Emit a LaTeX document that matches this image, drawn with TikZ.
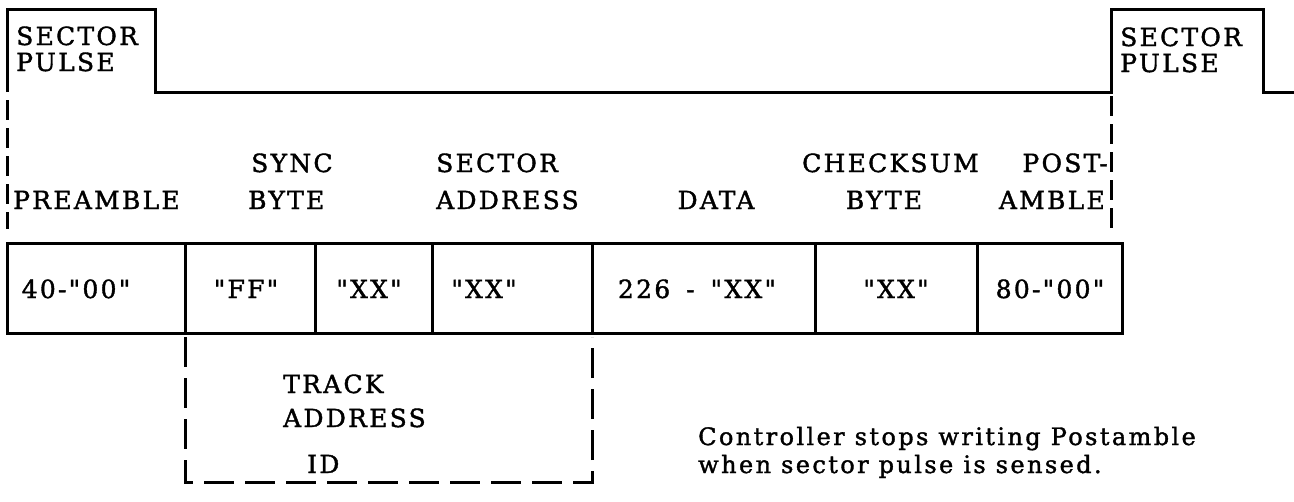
\documentclass[tikz,border=0pt]{standalone}
\usepackage{fontspec}
\setmainfont{DejaVu Serif}
\newfontfamily\lblfont{DejaVu Serif}[LetterSpace=9, FakeBold=1.5]
\newfontfamily\notefont{DejaVu Serif}[LetterSpace=10, FakeBold=1.5]
\begin{document}
\begin{tikzpicture}[x=1pt,y=-1pt,
  sig/.style={line width=3pt, line join=miter},
  boxline/.style={line width=3pt},
  guide/.style={line width=3pt, dash pattern=on 20pt off 8pt},
  idline/.style={line width=3pt, dash pattern=on 30pt off 11pt},
  lbl/.style={inner sep=0pt, font=\lblfont\fontsize{25}{33}\selectfont},
  cell/.style={inner sep=0pt, anchor=base, font=\lblfont\fontsize{25}{33}\selectfont},
  note/.style={inner sep=0pt, font=\notefont\fontsize{24}{30}\selectfont}]
\useasboundingbox (0,0) rectangle (1294,501);

% sector pulse signal
\coordinate (s0) at (7,92);
\coordinate (s1) at (7,9);
\coordinate (s2) at (155,9);
\coordinate (s3) at (155,92);
\coordinate (s4) at (1111,92);
\coordinate (s5) at (1111,9);
\coordinate (s6) at (1263,9);
\coordinate (s7) at (1263,92);
\coordinate (s8) at (1294,92);
\draw[sig] (s0) -- (s1) -- (s2) -- (s3) -- (s4) -- (s5) -- (s6) -- (s7) -- (s8);

\node[lbl, anchor=base west] (spL1) at (16,45) {SECTOR};
\node[lbl, anchor=base west] (spL2) at (16,71) {PULSE};
\node[lbl, anchor=base west] (spR1) at (1120,46) {SECTOR};
\node[lbl, anchor=base west] (spR2) at (1120,72) {PULSE};

% guide lines
\coordinate (gL1) at (7,100);
\coordinate (gL2) at (7,229);
\coordinate (gR1) at (1111,96);
\coordinate (gR2) at (1111,229);
\draw[guide] (gL1) -- (gL2);
\draw[guide] (gR1) -- (gR2);

% field labels
\node[lbl, anchor=base west] (preB) at (13,209) {PREAMBLE};
\node[lbl, anchor=base west] (syncA) at (251,172) {SYNC};
\node[lbl, anchor=base west] (syncB) at (248,209) {BYTE};
\node[lbl, anchor=base west] (secA) at (436,172) {SECTOR};
\node[lbl, anchor=base west] (secB) at (436,209) {ADDRESS};
\node[lbl, anchor=base] (dataB) at (716,209) {DATA};
\node[lbl, anchor=base west] (chkA) at (802,172) {CHECKSUM};
\node[lbl, anchor=base] (chkB) at (884,209) {BYTE};
\node[lbl, anchor=base east] (ambB) at (1105,209) {AMBLE};
\node[lbl, anchor=base east] (ambA) at (1108,172) {POST-};

% record box
\coordinate (b0) at (7,243);
\coordinate (b1) at (1122,333);
\draw[boxline] (b0) rectangle (b1);
\foreach \x/\n in {185/d1,315/d2,432/d3,592/d4,815/d5,977/d6}{
  \coordinate (\n t) at (\x,243);
  \coordinate (\n b) at (\x,333);
  \draw[boxline] (\n t) -- (\n b);
}
\node[cell] (c1) at (76,298) {40-"00"};
\node[cell] (c2) at (246,298) {"FF"};
\node[cell] (c3) at (369,298) {"XX"};
\node[cell] (c4) at (484,298) {"XX"};
\node[cell] (c5) at (697,298) {226\hspace{16pt}-\hspace{16pt}"XX"};
\node[cell] (c6) at (896,298) {"XX"};
\node[cell] (c7) at (1050,298) {80-"00"};

% ID bracket
\coordinate (i0) at (185,337);
\coordinate (i1) at (185,482);
\coordinate (i2) at (592,482);
\coordinate (i3) at (592,337);
\draw[idline] (i0) -- (i1) -- (i2) -- (i3);
\node[lbl, anchor=base west] (trkA) at (283,393) {TRACK};
\node[lbl, anchor=base west] (trkB) at (283,427) {ADDRESS};
\node[lbl, anchor=base west] (idL) at (307,473) {ID};

% note
\node[note, anchor=base east] (n1) at (1196,445) {Controller stops writing Postamble};
\node[note, anchor=base west] (n2) at ([yshift=-28pt]n1.base west) {when sector pulse is sensed.};
\end{tikzpicture}
\end{document}
